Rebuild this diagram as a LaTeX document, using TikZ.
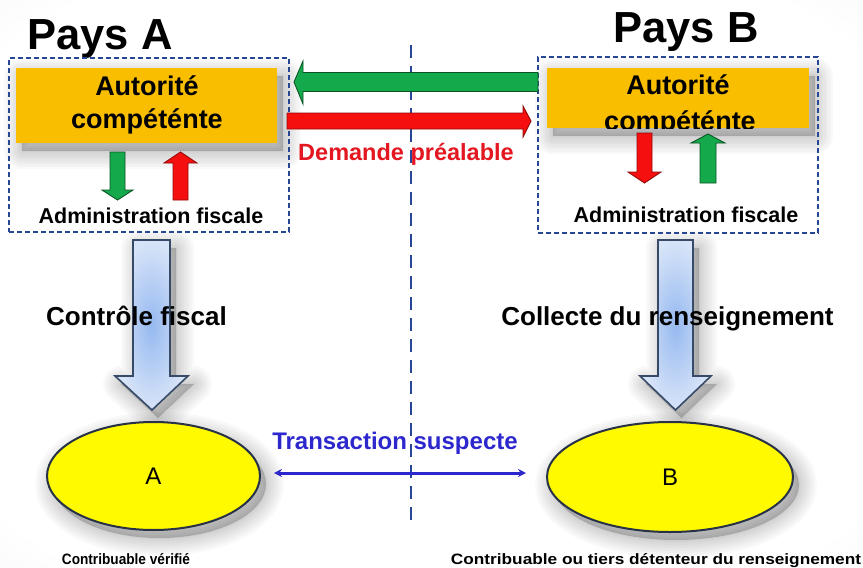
\documentclass[tikz,border=0pt]{standalone}
\usepackage{fontspec}
\setmainfont{Liberation Sans}
\newfontfamily\narrowsans{Liberation Sans}[FakeStretch=0.91]
\newfontfamily\widesans{Liberation Sans}[FakeStretch=1.15]
\usetikzlibrary{shapes.geometric,arrows.meta}

\definecolor{orangebox}{RGB}{250,190,0}
\definecolor{flowgreen}{RGB}{20,170,75}
\definecolor{flowred}{RGB}{245,15,15}
\definecolor{frameblue}{RGB}{40,70,150}
\definecolor{linkblue}{RGB}{45,40,205}
\definecolor{demred}{RGB}{228,22,32}
\definecolor{bigedge}{RGB}{55,75,105}
\definecolor{bigfillin}{RGB}{150,185,240}
\definecolor{bigfillout}{RGB}{215,228,248}
\definecolor{ovalyellow}{RGB}{255,250,0}
\definecolor{ovaledge}{RGB}{40,50,70}

\pgfdeclareradialshading{vignette}{\pgfpoint{0bp}{0bp}}{%
  color(0bp)=(white); color(32bp)=(white); color(50bp)=(gray!16); color(72bp)=(gray!26)}

% soft drop shadow: the path is stacked several times with wide faint strokes
\newcommand\hazeunder[1]{%
  \begin{scope}[shift={(6,8)}]
    \foreach \w in {36,31,26,21,16,11,6,2}
      {\path[fill=black, draw=black, opacity=0.022, line width=\w pt, line join=round] #1;}
  \end{scope}}

\tikzset{
  dashframe/.style={draw=frameblue, line width=2pt, dash pattern=on 5pt off 3pt,
      rectangle, inner sep=0pt},
  authority/.style={fill=orangebox, rectangle, inner sep=0pt},
  authtext/.style={font=\bfseries\fontsize{27}{30}\selectfont, anchor=base, inner sep=0pt},
  admintext/.style={font=\bfseries\fontsize{21.5}{24}\selectfont, anchor=base, inner sep=0pt},
  paystext/.style={font=\bfseries\fontsize{43.5}{46}\selectfont, anchor=base, inner sep=0pt},
  actiontext/.style={font=\bfseries\fontsize{26}{30}\selectfont, anchor=base, inner sep=0pt},
  greenflow/.style={fill=flowgreen, draw=flowgreen!50!black, line width=0.9pt, line join=miter},
  redflow/.style={fill=flowred, draw=flowred!60!black, line width=0.9pt, line join=miter},
  bigflow/.style={draw=bigedge, line width=1.6pt, inner color=bigfillin,
      outer color=bigfillout},
  taxpayer/.style={ellipse, fill=ovalyellow, draw=ovaledge, line width=2pt,
      inner sep=0pt, font=\fontsize{24}{26}\selectfont},
}

\begin{document}
\begin{tikzpicture}[x=1pt, y=-1pt]
\useasboundingbox (0,0) rectangle (863,568);
\shade[shading=vignette] (0,0) rectangle (863,568);

% shadows under the main shapes
\hazeunder{(16,68) rectangle (277,143)}
\hazeunder{(547,68) rectangle (809,128)}
\hazeunder{(133,240) -- (170,240) -- (170,376) -- (188,376) -- (152,410) -- (115,376) -- (133,376) -- cycle}
\hazeunder{(658,240) -- (693,240) -- (693,376) -- (711,376) -- (675.5,410) -- (640,376) -- (658,376) -- cycle}
\hazeunder{(153.5,476) ellipse [x radius=106.5, y radius=54]}
\hazeunder{(670,477) ellipse [x radius=123, y radius=55]}

% frontier between the two countries
\coordinate (frontiertop) at (411,45);
\coordinate (frontierbot) at (411,522);
\draw[frameblue, line width=2pt, dash pattern=on 13pt off 8pt] (frontiertop) -- (frontierbot);

% country titles
\node[paystext] (paysA) at (100,49) {Pays A};
\node[paystext] (paysB) at (686,42) {Pays B};

% dashed frames of the tax administrations
\node[dashframe, anchor=north west, minimum width=280pt, minimum height=174pt] (cadreA) at (8,57) {};
\node[dashframe, anchor=north west, minimum width=280pt, minimum height=176pt] (cadreB) at (537,56) {};

% competent authorities
\node[authority, anchor=north west, minimum width=261pt, minimum height=75pt] (autA) at (16,68) {};
\node[authtext] (autAl1) at (147,95) {Autorité};
\node[authtext] (autAl2) at (147,128) {compéténte};

\node[authority, anchor=north west, minimum width=262pt, minimum height=60pt] (autB) at (547,68) {};
\begin{scope}
  \clip (autB.north west) rectangle (autB.south east);
  \node[authtext] (autBl1) at (678,94) {Autorité};
  \node[authtext] (autBl2) at (680,130) {compéténte};
\end{scope}

% flows between authority and administration, country A
\fill[greenflow] (110,152) -- (125,152) -- (125,190) -- (133,190) -- (117.5,200)
  -- (102,190) -- (110,190) -- cycle;
\fill[redflow] (173,200) -- (188,200) -- (188,163) -- (197,163) -- (180.5,152)
  -- (164,163) -- (173,163) -- cycle;
\node[admintext] (adminA) at (151,223) {Administration fiscale};

% flows between authority and administration, country B
\fill[redflow] (637,133) -- (652,133) -- (652,172) -- (661,172) -- (644.5,183)
  -- (628,172) -- (637,172) -- cycle;
\fill[greenflow] (700,183) -- (716,183) -- (716,143) -- (725,143) -- (708,134)
  -- (691,143) -- (700,143) -- cycle;
\node[admintext] (adminB) at (686,222) {Administration fiscale};

% exchange between the two authorities
\fill[greenflow] (538,72.5) -- (303,72.5) -- (303,61) -- (294,82) -- (303,104)
  -- (303,91.5) -- (538,91.5) -- cycle;
\fill[redflow] (287,113) -- (523,113) -- (523,106) -- (531,121) -- (523,137)
  -- (523,129) -- (287,129) -- cycle;
\node[font=\bfseries\fontsize{23.5}{26}\selectfont, text=demred, anchor=base, inner sep=0pt]
  (demande) at (406,160) {Demande préalable};

% big arrows towards the taxpayers
\path[bigflow] (133,240) -- (170,240) -- (170,376) -- (188,376) -- (152,410)
  -- (115,376) -- (133,376) -- cycle;
\path[bigflow] (658,240) -- (693,240) -- (693,376) -- (711,376) -- (675.5,410)
  -- (640,376) -- (658,376) -- cycle;
\node[actiontext] (controle) at (136.5,325) {Contrôle fiscal};
\node[actiontext] (collecte) at (667.5,325) {Collecte du renseignement};

% taxpayers
\node[taxpayer, minimum width=213pt, minimum height=108pt] (ovA) at (153.5,476) {A};
\node[taxpayer, minimum width=246pt, minimum height=110pt] (ovB) at (670,477) {B};

\draw[linkblue, line width=3pt, {Stealth[length=8pt,width=8pt]}-{Stealth[length=8pt,width=8pt]},
  shorten <=13pt, shorten >=20pt] ([yshift=3pt]ovA.east) -- ([yshift=4pt]ovB.west);
\node[font=\bfseries\fontsize{24}{26}\selectfont, text=linkblue, anchor=base, inner sep=0pt]
  (transac) at (395,449) {Transaction suspecte};

\node[font=\narrowsans\bfseries\fontsize{15}{17}\selectfont, anchor=base, inner sep=0pt]
  (verifie) at (126,564) {Contribuable vérifié};
\node[font=\widesans\bfseries\fontsize{15}{17}\selectfont, anchor=base, inner sep=0pt]
  (detenteur) at (656,564) {Contribuable ou tiers détenteur du renseignement};
\end{tikzpicture}
\end{document}
